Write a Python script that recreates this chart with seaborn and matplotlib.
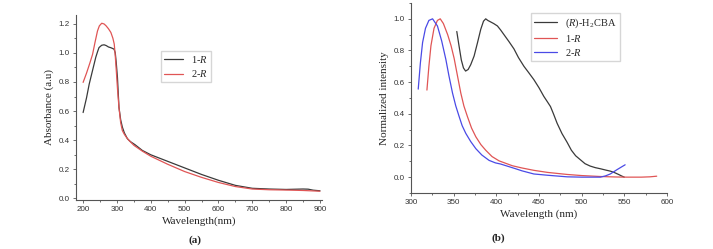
import matplotlib
matplotlib.use("Agg")
from matplotlib import pyplot as plt
from matplotlib.ticker import AutoMinorLocator
import seaborn as sns

# (a) absorbance
wl_1R = [200, 210, 218, 228, 237.5, 243, 247, 255, 262, 268, 275, 282, 287, 291.5, 295, 298, 301.5, 306, 311, 316,
         322, 331, 340, 353, 375, 400, 450, 500, 550, 600, 650, 700, 750, 800, 850, 865, 880, 900]
abs_1R = [0.59, 0.69, 0.785, 0.88, 0.97, 1.01, 1.036, 1.052, 1.055, 1.05, 1.04, 1.035, 1.03, 1.025, 1.0, 0.93, 0.83,
          0.625, 0.54, 0.49, 0.45, 0.41, 0.39, 0.37, 0.33, 0.30, 0.255, 0.21, 0.165, 0.125, 0.09, 0.07, 0.065, 0.062,
          0.065, 0.064, 0.057, 0.053]
wl_2R = [200, 210, 220, 228, 235, 242.5, 248, 255, 262, 268, 275, 282, 288, 292, 295, 298, 302, 306, 311, 316, 322,
         328, 335, 350, 375, 400, 450, 500, 550, 600, 650, 700, 750, 800, 850, 900]
abs_2R = [0.797, 0.86, 0.93, 0.99, 1.07, 1.15, 1.185, 1.203, 1.198, 1.185, 1.165, 1.14, 1.10, 1.06, 0.98, 0.88, 0.74,
          0.625, 0.52, 0.466, 0.44, 0.42, 0.40, 0.365, 0.325, 0.29, 0.235, 0.185, 0.145, 0.11, 0.082, 0.065, 0.06,
          0.058, 0.055, 0.05]

# (b) normalized emission
wl_L = [353.7, 356, 359, 361.5, 364, 367, 370, 374, 378, 381.8, 385, 387.6, 390, 393.5, 397, 401.3, 405, 409, 415,
        420.7, 426, 432.4, 438, 444, 450, 455.7, 460, 463.5, 467, 471.3, 477, 483, 488, 493, 498.5, 504, 510, 516,
        522, 528, 533.6, 538, 543.3, 547, 550]
int_L = [0.92, 0.84, 0.74, 0.69, 0.67, 0.68, 0.71, 0.765, 0.85, 0.934, 0.985, 1.0, 0.99, 0.98, 0.97, 0.955, 0.93, 0.90,
         0.855, 0.81, 0.755, 0.70, 0.66, 0.616, 0.565, 0.51, 0.475, 0.446, 0.40, 0.34, 0.275, 0.22, 0.17, 0.135, 0.11,
         0.085, 0.07, 0.06, 0.053, 0.045, 0.038, 0.03, 0.017, 0.007, 0.0]
wl_1 = [318.7, 321, 323.4, 327, 331, 334.3, 338, 343, 347, 350.6, 354.5, 358.4, 362, 366.2, 371, 376, 382, 387.6, 395,
        403.2, 418.8, 430, 444, 460, 483, 500, 522, 540, 553, 570, 580, 588]
int_1 = [0.55, 0.70, 0.83, 0.94, 0.99, 1.0, 0.97, 0.90, 0.83, 0.75, 0.64, 0.531, 0.45, 0.382, 0.31, 0.255, 0.205, 0.17,
         0.13, 0.103, 0.072, 0.058, 0.043, 0.03, 0.017, 0.01, 0.004, 0.001, 0.0, 0.0, 0.002, 0.006]
wl_2 = [308.5, 311, 313.6, 317, 321, 325.3, 331, 336, 340.9, 344.5, 348.7, 352.5, 356.5, 360, 364.3, 370, 376, 383,
        391.5, 399, 405, 422.7, 430, 444, 460, 483, 500, 522, 528, 533.6, 541.4, 546, 551]
int_2 = [0.556, 0.72, 0.85, 0.94, 0.99, 1.0, 0.955, 0.86, 0.743, 0.64, 0.531, 0.45, 0.382, 0.325, 0.276, 0.225, 0.18,
         0.14, 0.106, 0.09, 0.083, 0.053, 0.04, 0.02, 0.012, 0.002, 0.0, 0.0, 0.008, 0.02, 0.047, 0.062, 0.078]

sns.set_style("white")
plt.rcParams['font.family'] = ['Liberation Serif', 'DejaVu Serif']
plt.rcParams['mathtext.fontset'] = 'custom'
plt.rcParams['mathtext.rm'] = 'Liberation Serif'
plt.rcParams['mathtext.it'] = 'Liberation Serif:italic'

c_blk, c_red, c_blu = '#3a3a3a', '#e05555', '#4a4ae6'

f = plt.figure(figsize=(7.13, 2.49), dpi=100)
ax1 = f.add_axes([0.1066, 0.197, 0.345, 0.743])
ax2 = f.add_axes([0.5764, 0.225, 0.359, 0.763])

sns.lineplot(x=wl_1R, y=abs_1R, sort=False, color=c_blk, lw=0.9, ax=ax1, label='1-$\\it{R}$')
sns.lineplot(x=wl_2R, y=abs_2R, sort=False, color=c_red, lw=0.9, ax=ax1, label='2-$\\it{R}$')
ax1.set_xlim(179, 906)
ax1.set_ylim(-0.01, 1.26)
ax1.set_xticks(range(200, 901, 100))
ax1.set_yticks([0.0, 0.2, 0.4, 0.6, 0.8, 1.0, 1.2])
ax1.set_xlabel('Wavelength(nm)', fontsize=8)
ax1.set_ylabel('Absorbance (a.u)', fontsize=8)
ax1.legend(loc='upper left', bbox_to_anchor=(0.345, 0.805), borderaxespad=0, fontsize=7.5, frameon=True,
           fancybox=False, edgecolor='#cccccc', handlelength=1.8, borderpad=0.3, labelspacing=0.3)

sns.lineplot(x=wl_L, y=int_L, sort=False, color=c_blk, lw=0.9, ax=ax2, label='($\\it{R}$)-H$_2$CBA')
sns.lineplot(x=wl_1, y=int_1, sort=False, color=c_red, lw=0.9, ax=ax2, label='1-$\\it{R}$')
sns.lineplot(x=wl_2, y=int_2, sort=False, color=c_blu, lw=0.9, ax=ax2, label='2-$\\it{R}$')
ax2.set_xlim(300, 600)
ax2.set_ylim(-0.1, 1.1)
ax2.set_xticks(range(300, 601, 50))
ax2.set_yticks([0.0, 0.2, 0.4, 0.6, 0.8, 1.0])
ax2.set_xlabel('Wavelength (nm)', fontsize=8)
ax2.set_ylabel('Normalized intensity', fontsize=8)
ax2.legend(loc='upper left', bbox_to_anchor=(0.469, 0.947), borderaxespad=0, fontsize=7.5, frameon=True,
           fancybox=False, edgecolor='#cccccc', handlelength=2.2, borderpad=0.3, labelspacing=0.3)

for ax in (ax1, ax2):
    sns.despine(ax=ax)
    for s in ('left', 'bottom'):
        ax.spines[s].set_color('#555555')
        ax.spines[s].set_linewidth(0.8)
    ax.xaxis.set_minor_locator(AutoMinorLocator(2))
    ax.yaxis.set_minor_locator(AutoMinorLocator(2))
    ax.tick_params(which='both', direction='out', color='#555555', width=0.6,
                   bottom=True, left=True, labelsize=5.8, pad=2)
    ax.tick_params(which='major', length=2.5)
    ax.tick_params(which='minor', length=1.5)
    for t in ax.get_xticklabels() + ax.get_yticklabels():
        t.set_family('Liberation Sans')
        t.set_color('#333333')
    ax.xaxis.labelpad = 2
    ax.yaxis.labelpad = 3

f.text(195 / 713, 1 - 240 / 249, '(a)', ha='center', va='center', fontsize=8, fontweight='bold')
f.text(498 / 713, 1 - 238 / 249, '(b)', ha='center', va='center', fontsize=8, fontweight='bold')

f.savefig('out.png', dpi=100)
